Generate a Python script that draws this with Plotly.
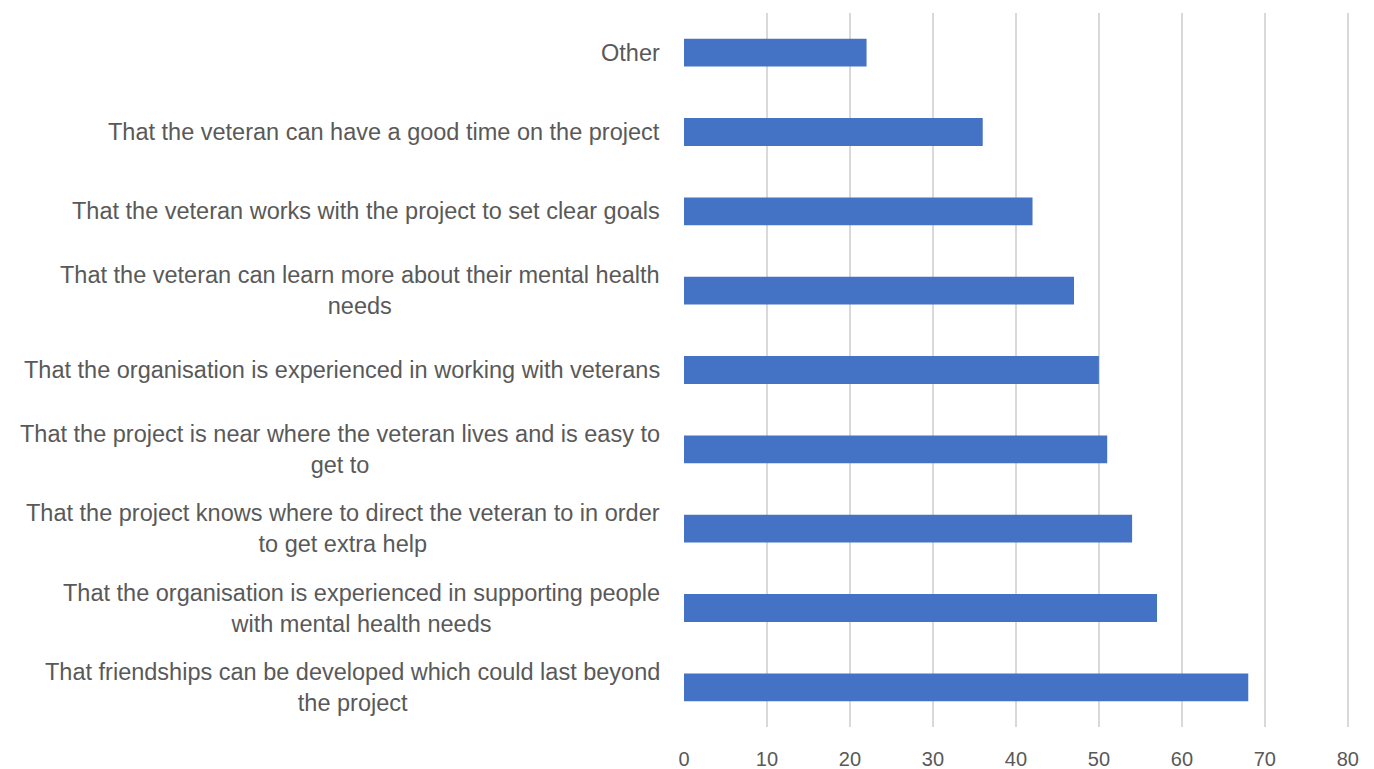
import plotly.graph_objects as go

categories = [
    "Other",
    "That the veteran can have a good time on the project",
    "That the veteran works with the project to set clear goals",
    "That the veteran can learn more about their mental health<br>needs",
    "That the organisation is experienced in working with veterans",
    "That the project is near where the veteran lives and is easy to<br>get to",
    "That the project knows where to direct the veteran to in order<br>to get extra help",
    "That the organisation is experienced in supporting people<br>with mental health needs",
    "That friendships can be developed which could last beyond<br>the project",
]
values = [22, 36, 42, 47, 50, 51, 54, 57, 68]
x_ticks = [0, 10, 20, 30, 40, 50, 60, 70, 80]

FONT = "Liberation Sans, Arial, sans-serif"
TEXT = "#595959"

fig = go.Figure(go.Bar(
    x=values, y=categories, orientation="h",
    marker=dict(color="#4472C4", line=dict(color="#4472C4", width=0)),
    width=0.35,
))

for c in categories:
    fig.add_annotation(
        x=0, y=c, xref="paper", yref="y", text=c, showarrow=False,
        xanchor="right", yanchor="middle", align="center", xshift=-22,
        font=dict(family=FONT, size=23.5, color=TEXT),
    )

fig.update_layout(
    width=1366, height=761,
    margin=dict(l=676, r=22, t=5, b=42, autoexpand=False),
    paper_bgcolor="white", plot_bgcolor="white",
    showlegend=False,
    font=dict(family=FONT, color=TEXT),
    xaxis=dict(
        range=[0, 80.5], tickvals=x_ticks, ticktext=[str(v) for v in x_ticks],
        showgrid=True, gridcolor="#D9D9D9", gridwidth=2,
        zeroline=False, showline=False, automargin=False,
        ticks="outside", ticklen=14, tickcolor="rgba(0,0,0,0)",
        tickfont=dict(family=FONT, size=20, color=TEXT),
    ),
    yaxis=dict(
        autorange="reversed", showticklabels=False, showgrid=False,
        zeroline=False, showline=False, automargin=False,
    ),
)

fig.write_html("out.html")
